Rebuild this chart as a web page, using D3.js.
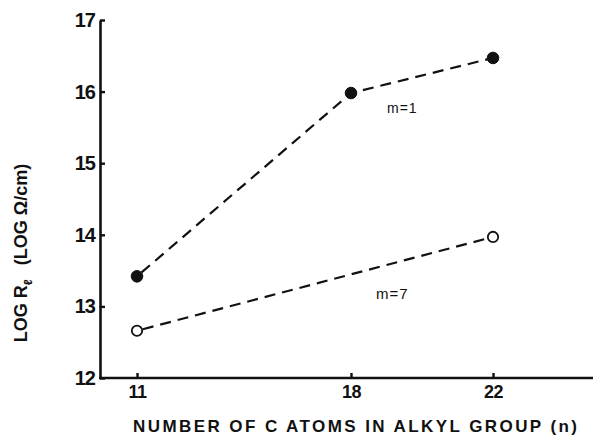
<!DOCTYPE html>
<html><head><meta charset="utf-8">
<script src="https://cdn.jsdelivr.net/npm/d3@7"></script>
<style>body{margin:0;background:#fff}svg{display:block}text{font-family:"Liberation Sans",Arial,sans-serif}</style>
</head><body><svg id="c" width="593" height="436"></svg>
<script>
const carbonAtoms = [11, 18, 22];
const xTickLabels = ["11", "18", "22"];
const yTicks = [12, 13, 14, 15, 16, 17];
const seriesM1 = [13.42, 15.98, 16.47];
const seriesM7 = [12.66, null, 13.97];
const seriesNames = ["m=1", "m=7"];

const svg = d3.select("#c");
const ink = "#111";
const x = d3.scaleLinear().domain([11, 18, 22]).range([137, 351, 493]);
const y = d3.scaleLinear().domain([12, 17]).range([378, 20]);

// axes
const yAxis = d3.axisLeft(y).tickValues(yTicks).tickSizeInner(-5).tickSizeOuter(0).tickPadding(5).tickFormat(d3.format("d"));
const gy = svg.append("g").attr("transform", "translate(100,0)").call(yAxis);
gy.select(".domain").attr("stroke", ink).attr("stroke-width", 2.6);
gy.selectAll(".tick line").attr("stroke", ink).attr("stroke-width", 2.4);
gy.selectAll(".tick text").attr("fill", ink).attr("font-size", 20).attr("font-weight", "bold").attr("letter-spacing", -1);

const xAxis = d3.axisBottom(x).tickValues(carbonAtoms).tickSizeInner(-5).tickSizeOuter(0).tickPadding(7).tickFormat((d, i) => xTickLabels[i]);
const gx = svg.append("g").attr("transform", "translate(0,378)").call(xAxis);
gx.select(".domain").remove();
gx.append("line").attr("x1", 99).attr("x2", 593).attr("y1", 0).attr("y2", 0).attr("stroke", ink).attr("stroke-width", 2.6);
gx.selectAll(".tick line").attr("stroke", ink).attr("stroke-width", 2.4);
gx.selectAll(".tick text").attr("fill", ink).attr("font-size", 18).attr("font-weight", "bold").attr("letter-spacing", -0.5);

// axis titles
svg.append("text").attr("x", 133).attr("y", 432).attr("font-size", 17).attr("font-weight", "bold").attr("fill", ink)
  .attr("textLength", 444).attr("lengthAdjust", "spacing")
  .text("NUMBER  OF  C  ATOMS  IN  ALKYL  GROUP (n)");

const yt = svg.append("text").attr("transform", "translate(27,253) rotate(-90)").attr("text-anchor", "middle")
  .attr("font-size", 18).attr("font-weight", "bold").attr("fill", ink);
yt.append("tspan").text("LOG R");
yt.append("tspan").attr("font-size", 12).attr("dy", 5).text("ℓ");
yt.append("tspan").attr("dy", -5).attr("dx", 14).text("(LOG Ω/cm)");

// series
function drawSeries(vals, filled) {
  const pts = carbonAtoms.map((c, i) => [c, vals[i]]).filter(p => p[1] != null);
  const line = d3.line().x(p => x(p[0])).y(p => y(p[1]));
  svg.append("path").attr("d", line(pts)).attr("fill", "none").attr("stroke", ink)
    .attr("stroke-width", 2.2).attr("stroke-dasharray", "11,7").attr("stroke-dashoffset", -6);
  svg.selectAll(null).data(pts).enter().append("circle")
    .attr("cx", p => x(p[0])).attr("cy", p => y(p[1])).attr("r", filled ? 5.8 : 5.2)
    .attr("fill", filled ? ink : "#fff").attr("stroke", ink).attr("stroke-width", filled ? 1 : 1.8);
}
drawSeries(seriesM1, true);
drawSeries(seriesM7, false);

// series labels
svg.append("text").attr("x", 387).attr("y", 113).attr("font-size", 14).attr("letter-spacing", 1).attr("fill", ink).text(seriesNames[0]);
svg.append("text").attr("x", 376).attr("y", 299).attr("font-size", 15).attr("letter-spacing", 1).attr("fill", ink).text(seriesNames[1]);
</script></body></html>
